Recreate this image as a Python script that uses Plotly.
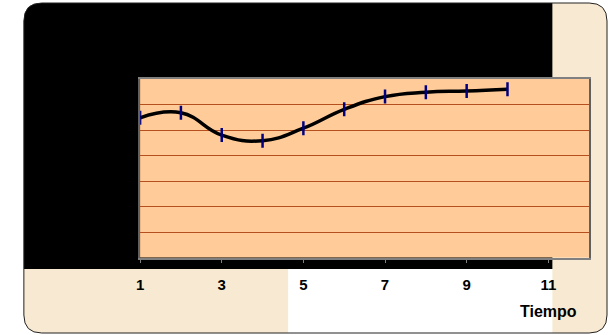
import plotly.graph_objects as go

# Series: value measured at each time step
tiempo = [1, 2, 3, 4, 5, 6, 7, 8, 9, 10]
valores = [54.8, 56.8, 48.0, 45.8, 50.7, 58.1, 63.1, 64.8, 65.3, 66.0]
x_ticks = [1, 3, 5, 7, 9, 11]

W, H = 609, 335
PARCHMENT = "#F8EAD2"
PEACH = "#FFCC99"
GRID = "#B5501E"
FONT = "Liberation Sans, Arial, sans-serif"


def fx(p):
    return p / W


def fy(p):
    return 1 - p / H


def rounded_path(x0, y0, x1, y1, r, corners):
    """Rectangle path in paper units with selected rounded corners (tl, tr, br, bl)."""
    rx, ry = r / W, r / H
    X0, X1 = fx(x0), fx(x1)
    Y0, Y1 = fy(y0), fy(y1)  # Y0 top, Y1 bottom
    tl, tr, br, bl = corners
    d = [f"M {X0},{Y0 - ry if tl else Y0}"]
    if tl:
        d.append(f"Q {X0},{Y0} {X0 + rx},{Y0}")
    d.append(f"L {X1 - rx if tr else X1},{Y0}")
    if tr:
        d.append(f"Q {X1},{Y0} {X1},{Y0 - ry}")
    d.append(f"L {X1},{Y1 + ry if br else Y1}")
    if br:
        d.append(f"Q {X1},{Y1} {X1 - rx},{Y1}")
    d.append(f"L {X0 + rx if bl else X0},{Y1}")
    if bl:
        d.append(f"Q {X0},{Y1} {X0},{Y1 + ry}")
    d.append("Z")
    return " ".join(d)


fig = go.Figure()
fig.add_trace(go.Scatter(
    x=tiempo, y=valores, mode="lines+markers",
    line=dict(color="black", width=3.5, shape="spline", smoothing=1.3),
    marker=dict(symbol="line-ns", size=10, line=dict(width=2.5, color="#000080")),
    showlegend=False, hoverinfo="skip",
))

frame = rounded_path(20, 3, 607, 333, 18, (True, True, True, True))
shapes = [
    # parchment card
    dict(type="path", xref="paper", yref="paper", layer="below",
         path=frame, fillcolor=PARCHMENT, line=dict(width=0)),
    # black backdrop behind the plot area
    dict(type="path", xref="paper", yref="paper", layer="below",
         path=rounded_path(20, 3, 552, 269, 18, (True, False, False, False)),
         fillcolor="black", line=dict(width=0)),
    # white strip under the axis labels
    dict(type="rect", xref="paper", yref="paper", layer="below",
         x0=fx(286), x1=fx(552), y0=fy(333), y1=fy(269),
         fillcolor="white", line=dict(width=0)),
    # plot area fill
    dict(type="rect", xref="x domain", yref="y domain", layer="below",
         x0=0, x1=1, y0=0, y1=1, fillcolor=PEACH, line=dict(width=0)),
    # outer rounded frame
    dict(type="path", xref="paper", yref="paper", layer="above",
         path=frame, line=dict(color="#222222", width=1), fillcolor="rgba(0,0,0,0)"),
]

fig.update_layout(
    width=W, height=H,
    margin=dict(l=0, r=0, t=0, b=0),
    paper_bgcolor="white",
    plot_bgcolor="rgba(0,0,0,0)",
    shapes=shapes,
    font=dict(family=FONT, color="black"),
    xaxis=dict(
        domain=[fx(137), fx(589)], range=[1, 12],
        tickmode="array", tickvals=x_ticks, ticktext=[f"<b>{v}</b>" for v in x_ticks],
        tickfont=dict(size=15, family=FONT),
        ticks="outside", ticklen=4, tickcolor="#808080", tickwidth=1,
        ticklabelstandoff=9,
        showline=True, linecolor="#808080", linewidth=1.5, mirror=True,
        showgrid=False, zeroline=False, fixedrange=True,
    ),
    yaxis=dict(
        domain=[fy(257.5), fy(79)], range=[0, 70], dtick=10,
        showticklabels=False, ticks="",
        showgrid=True, gridcolor=GRID, gridwidth=1.2,
        showline=True, linecolor="#606060", linewidth=1.5, mirror=True,
        zeroline=False, fixedrange=True,
    ),
    annotations=[dict(
        text="<b>Tiempo</b>", xref="paper", yref="paper",
        x=fx(548), y=fy(311), xanchor="center", yanchor="middle",
        showarrow=False, font=dict(size=16, family=FONT, color="black"),
    )],
)

fig.write_html("out.html")
